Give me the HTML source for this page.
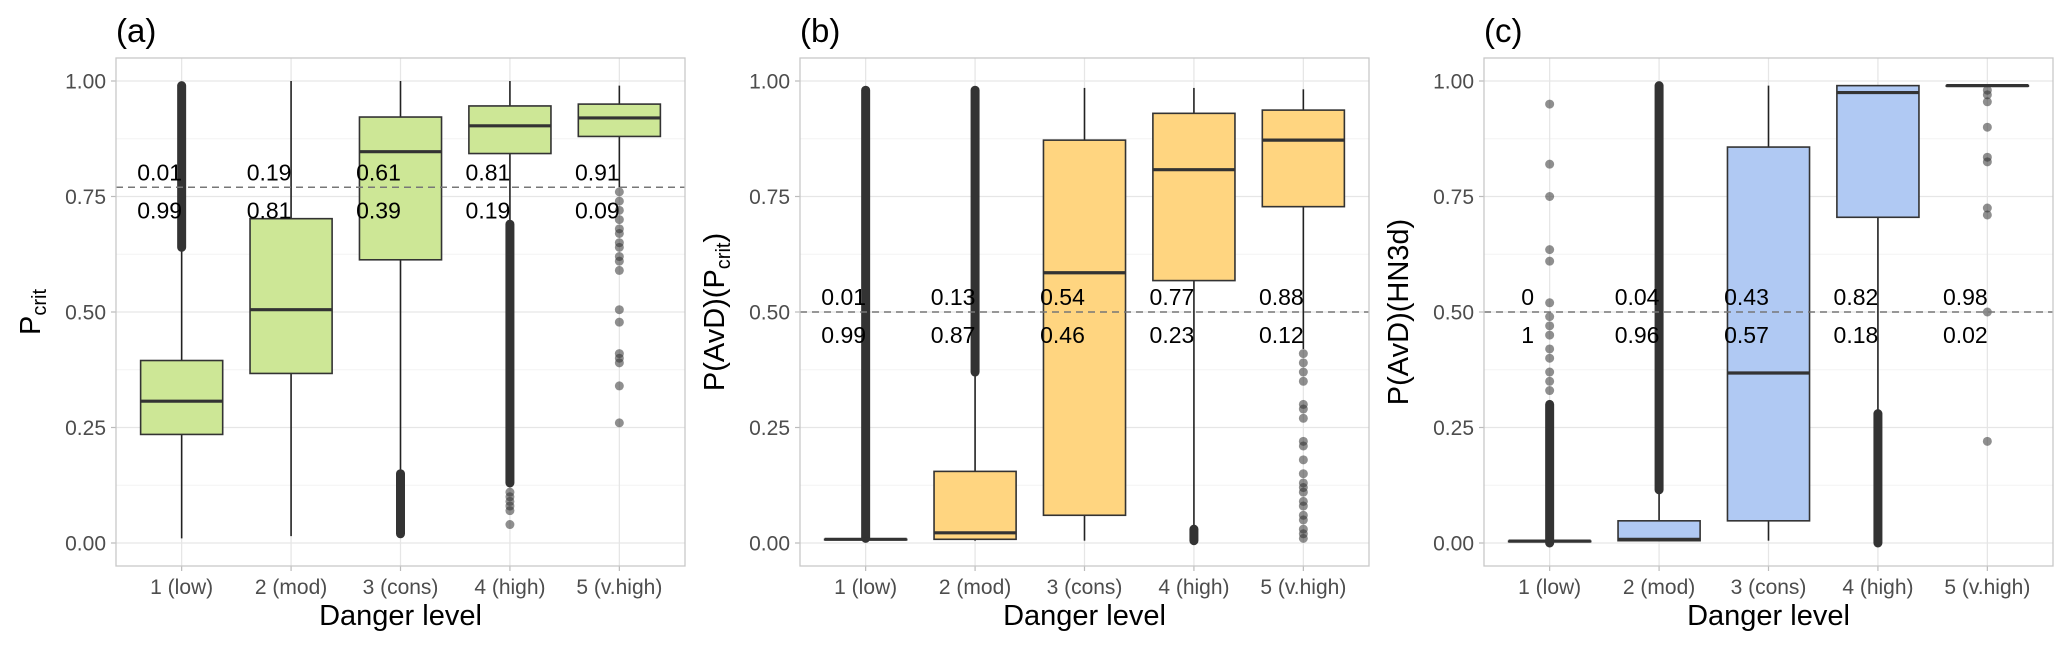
<!DOCTYPE html>
<html><head><meta charset="utf-8">
<style>
html,body{margin:0;padding:0;background:#fff;}
svg{display:block;font-family:"Liberation Sans",Arial,sans-serif;}
</style></head>
<body>
<svg id="chart" width="2067" height="645" viewBox="0 0 2067 645" xmlns="http://www.w3.org/2000/svg"></svg>
<script>
const categories = ["1 (low)","2 (mod)","3 (cons)","4 (high)","5 (v.high)"];
const yTicks = [0,0.25,0.5,0.75,1.0];
const yTickLabels = ["0.00","0.25","0.50","0.75","1.00"];

// Panel (a)
const aLow    = [0.01, 0.015, 0.155, 0.69, 0.77];
const aQ1     = [0.235,0.367,0.613,0.843,0.880];
const aMed    = [0.307,0.505,0.847,0.903,0.920];
const aQ3     = [0.395,0.702,0.922,0.946,0.950];
const aHigh   = [0.635,1.0,1.0,1.0,0.99];
const aDense  = [[0,0.64,0.99],[2,0.02,0.15],[3,0.13,0.69]];
const aSparse = [[3,0.04],[3,0.07],[3,0.08],[3,0.09],[3,0.10],[3,0.11],
  [4,0.76],[4,0.74],[4,0.72],[4,0.70],[4,0.68],[4,0.67],[4,0.65],[4,0.64],[4,0.62],[4,0.61],[4,0.59],[4,0.505],[4,0.478],[4,0.41],[4,0.40],[4,0.39],[4,0.34],[4,0.26]];
const aTop = ["0.01","0.19","0.61","0.81","0.91"];
const aBot = ["0.99","0.81","0.39","0.19","0.09"];
const aThresh = 0.77;

// Panel (b)
const bLow    = [0.008,0.005,0.005,0.03,0.42];
const bQ1     = [0.008,0.008,0.06,0.568,0.728];
const bMed    = [0.008,0.022,0.585,0.808,0.872];
const bQ3     = [0.008,0.155,0.872,0.930,0.937];
const bHigh   = [0.01,0.37,0.985,0.985,0.982];
const bDense  = [[0,0.01,0.98],[1,0.37,0.98],[3,0.005,0.03]];
const bSparse = [[4,0.41],[4,0.39],[4,0.37],[4,0.35],[4,0.30],[4,0.29],[4,0.27],[4,0.22],[4,0.21],[4,0.18],[4,0.15],[4,0.13],[4,0.12],[4,0.11],[4,0.09],[4,0.08],[4,0.06],[4,0.05],[4,0.03],[4,0.02],[4,0.01]];
const bTop = ["0.01","0.13","0.54","0.77","0.88"];
const bBot = ["0.99","0.87","0.46","0.23","0.12"];
const bThresh = 0.5;

// Panel (c)
const cLow    = [0.004,0.005,0.005,0.28,0.99];
const cQ1     = [0.004,0.005,0.048,0.705,0.99];
const cMed    = [0.004,0.008,0.368,0.975,0.99];
const cQ3     = [0.004,0.048,0.857,0.990,0.99];
const cHigh   = [0.004,0.115,0.99,0.99,0.99];
const cDense  = [[0,0.0,0.30],[1,0.115,0.99],[3,0.0,0.28]];
const cSparse = [[0,0.33],[0,0.35],[0,0.37],[0,0.40],[0,0.42],[0,0.45],[0,0.47],[0,0.49],[0,0.52],[0,0.61],[0,0.635],[0,0.75],[0,0.82],[0,0.95],
  [4,0.98],[4,0.97],[4,0.955],[4,0.90],[4,0.835],[4,0.825],[4,0.725],[4,0.71],[4,0.5],[4,0.22]];
const cTop = ["0","0.04","0.43","0.82","0.98"];
const cBot = ["1","0.96","0.57","0.18","0.02"];
const cThresh = 0.5;

const NS="http://www.w3.org/2000/svg";
const svg=document.getElementById('chart');
function mk(tag,attrs,parent){const e=document.createElementNS(NS,tag);for(const k in attrs)e.setAttribute(k,attrs[k]);(parent||svg).appendChild(e);return e;}

const PT=58, PB=566, PW=569;
function yScale(v){return 543 - v*462;}

function panel(left,letter,fill,low,q1,med,q3,high,dense,sparse,top,bot,thresh,ytitle,name){
  const g=mk('g',{});
  
  
  const xS=i=>left+(i+0.6)*PW/5.2;
  const bw=0.75*PW/5.2;
  const bg=mk('rect',{x:left,y:PT,width:PW,height:PB-PT,fill:'#fff'},g);
  
  
  for(let k=0;k<4;k++){const v=(yTicks[k]+yTicks[k+1])/2;
    const l=mk('line',{x1:left,x2:left+PW,y1:yScale(v),y2:yScale(v),stroke:'#f3f3f3','stroke-width':1},g);
    
    }
  yTicks.forEach((v,k)=>{
    const l=mk('line',{x1:left,x2:left+PW,y1:yScale(v),y2:yScale(v),stroke:'#e6e6e6','stroke-width':1.3},g);
    
    
    const t=mk('line',{x1:left-5,x2:left,y1:yScale(v),y2:yScale(v),stroke:'#bbb','stroke-width':1.2},g);
    
    
    const tx=mk('text',{x:left-10,y:yScale(v)+7.5,'text-anchor':'end','font-size':21,fill:'#4d4d4d'},g);
    tx.textContent=yTickLabels[k];
    
    
  });
  categories.forEach((c,i)=>{
    const l=mk('line',{x1:xS(i),x2:xS(i),y1:PT,y2:PB,stroke:'#e6e6e6','stroke-width':1.3},g);
    
    
    const t=mk('line',{x1:xS(i),x2:xS(i),y1:PB,y2:PB+5,stroke:'#bbb','stroke-width':1.2},g);
    
    
    const tx=mk('text',{x:xS(i),y:594,'text-anchor':'middle','font-size':21,fill:'#4d4d4d'},g);
    tx.textContent=c;
    
    
  });
  categories.forEach((c,i)=>{
    const x=xS(i);
    const w1=mk('line',{x1:x,x2:x,y1:yScale(high[i]),y2:yScale(q3[i]),stroke:'#222','stroke-width':1.6},g);
    
    
    const w2=mk('line',{x1:x,x2:x,y1:yScale(q1[i]),y2:yScale(low[i]),stroke:'#222','stroke-width':1.6},g);
    
    
  });
  dense.forEach(d=>{
    const l=mk('line',{x1:xS(d[0]),x2:xS(d[0]),y1:yScale(d[2]),y2:yScale(d[1]),stroke:'#333','stroke-width':9,'stroke-linecap':'round'},g);
    
    
  });
  sparse.forEach(s=>{
    const p=mk('circle',{cx:xS(s[0]),cy:yScale(s[1]),r:4.5,fill:'rgba(51,51,51,0.55)'},g);
    
    
  });
  categories.forEach((c,i)=>{
    const x=xS(i);
    const b=mk('rect',{x:x-bw/2,y:yScale(q3[i]),width:bw,height:Math.max(0.5,yScale(q1[i])-yScale(q3[i])),fill:fill,stroke:'#333','stroke-width':1.6},g);
    
    
    const m=mk('line',{x1:x-bw/2,x2:x+bw/2,y1:yScale(med[i]),y2:yScale(med[i]),stroke:'#333','stroke-width':3.2},g);
    
    
  });
  const th=mk('line',{x1:left,x2:left+PW,y1:yScale(thresh),y2:yScale(thresh),stroke:'#777','stroke-width':1.6,'stroke-dasharray':'7,5'},g);
  
  
  categories.forEach((c,i)=>{
    const x=xS(i)-22;
    const t1=mk('text',{x:x,y:yScale(thresh)-15+8,'text-anchor':'middle','font-size':23,fill:'#000'},g);
    t1.textContent=top[i];
    
    
    const t2=mk('text',{x:x,y:yScale(thresh)+23+8,'text-anchor':'middle','font-size':23,fill:'#000'},g);
    t2.textContent=bot[i];
    
    
  });
  const br=mk('rect',{x:left,y:PT,width:PW,height:PB-PT,fill:'none',stroke:'#c8c8c8','stroke-width':1.3},g);
  
  
  const tl=mk('text',{x:left,y:42,'font-size':33,fill:'#000'},g);
  tl.textContent=letter;
  
  
  const xt=mk('text',{x:left+PW/2,y:625,'text-anchor':'middle','font-size':29,fill:'#000'},g);
  xt.textContent='Danger level';
  
  
  const yt=mk('text',{x:0,y:0,'text-anchor':'middle','font-size':29,fill:'#000',transform:'translate('+(left-76)+','+((PT+PB)/2)+') rotate(-90)'},g);
  yt.innerHTML=ytitle;
  
  
}
panel(116,'(a)','#cde796',aLow,aQ1,aMed,aQ3,aHigh,aDense,aSparse,aTop,aBot,aThresh,'P<tspan font-size="20" dy="6">crit</tspan>','panel-a');
panel(800,'(b)','#ffd580',bLow,bQ1,bMed,bQ3,bHigh,bDense,bSparse,bTop,bBot,bThresh,'P(AvD)(P<tspan font-size="20" dy="6">crit</tspan><tspan dy="-6">)</tspan>','panel-b');
panel(1484,'(c)','#b0c9f3',cLow,cQ1,cMed,cQ3,cHigh,cDense,cSparse,cTop,cBot,cThresh,'P(AvD)(HN3d)','panel-c');
</script>
</body></html>
